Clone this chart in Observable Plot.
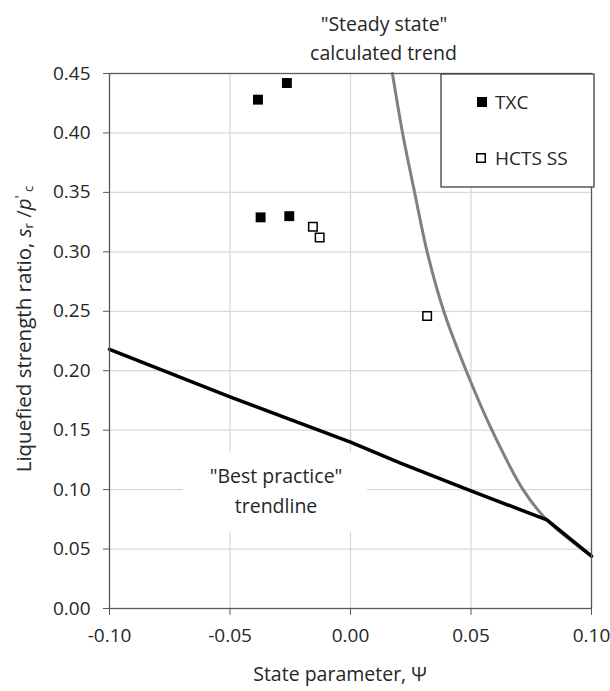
<!DOCTYPE html>
<html><head><meta charset="utf-8">
<script src="https://cdn.jsdelivr.net/npm/d3@7"></script>
<script src="https://cdn.jsdelivr.net/npm/@observablehq/plot@0.6"></script>
<style>body{margin:0;background:#fff;} svg{display:block;}</style>
</head><body><div id="chart"></div>
<script>
// Data
const xTicks = [-0.10, -0.05, 0.00, 0.05, 0.10];
const yTicks = [0.00, 0.05, 0.10, 0.15, 0.20, 0.25, 0.30, 0.35, 0.40, 0.45];

const txcPsi   = [-0.0384, -0.0264, -0.0373, -0.0254];
const txcRatio = [0.428, 0.442, 0.329, 0.330];

const hctsPsi   = [-0.0156, -0.0128, 0.0318];
const hctsRatio = [0.321, 0.312, 0.246];

const steadyPsi   = [0.0174, 0.0216, 0.0266, 0.0318, 0.0387, 0.0480, 0.0587, 0.0716, 0.0815, 0.1000];
const steadyRatio = [0.450, 0.400, 0.350, 0.300, 0.250, 0.200, 0.150, 0.100, 0.0745, 0.044];

const bestPsi   = [-0.100, -0.050, 0.000, 0.021, 0.050, 0.0815, 0.100];
const bestRatio = [0.218, 0.178, 0.140, 0.122, 0.099, 0.0745, 0.044];

const annotTexts = ['"Steady state"', 'calculated trend', '"Best practice"', 'trendline'];
const annotPsi   = [0.0139, 0.0137, -0.0309, -0.0309];
const annotRatio = [0.4908, 0.4664, 0.1106, 0.0854];

const legendLabels = ["TXC", "HCTS SS"];

const txc = txcPsi.map((x, i) => ({x, y: txcRatio[i]}));
const hcts = hctsPsi.map((x, i) => ({x, y: hctsRatio[i]}));
const steady = steadyPsi.map((x, i) => ({x, y: steadyRatio[i]}));
const best = bestPsi.map((x, i) => ({x, y: bestRatio[i]}));
const annots = annotTexts.map((t, i) => ({t, x: annotPsi[i], y: annotRatio[i]}));
const labelBox = [{x1: -0.0693, x2: 0.0071, y1: 0.0643, y2: 0.1308}];

const fmt = d => d.toFixed(2);
const txtColor = "#262626";
const axisColor = "#595959";
const font = "'Open Sans'";

const chart = Plot.plot({
  width: 610, height: 691,
  marginLeft: 109, marginRight: 19, marginTop: 73, marginBottom: 83,
  style: {fontFamily: font, fontSize: "19px", color: txtColor, background: "#fff", overflow: "visible"},
  x: {domain: [-0.1, 0.1]},
  y: {domain: [0, 0.45]},
  marks: [
    Plot.gridX(xTicks.slice(1, -1), {stroke: "#d9d9d9", strokeOpacity: 1, strokeWidth: 1.3}),
    Plot.gridY(yTicks.slice(1, -1), {stroke: "#d9d9d9", strokeOpacity: 1, strokeWidth: 1.3}),
    Plot.rect(labelBox, {x1: "x1", x2: "x2", y1: "y1", y2: "y2", fill: "white"}),
    Plot.text(annots, {x: "x", y: "y", text: "t", fill: txtColor, fontSize: 19.5}),
    Plot.line(steady, {x: "x", y: "y", stroke: "#808080", strokeWidth: 3, curve: "catmull-rom"}),
    Plot.line(best, {x: "x", y: "y", stroke: "#000", strokeWidth: 3.5}),
    Plot.dot(txc, {x: "x", y: "y", symbol: "square", r: 5.6, fill: "#000", stroke: "none"}),
    Plot.dot(hcts, {x: "x", y: "y", symbol: "square", r: 4.8, fill: "#fff", stroke: "#000", strokeWidth: 1.5}),
    Plot.frame({stroke: axisColor, strokeWidth: 1.3}),
    Plot.axisY(yTicks, {tickSize: 6, tickPadding: 13, tickFormat: fmt, label: null, stroke: axisColor, fill: txtColor}),
    Plot.axisX(xTicks, {tickSize: 7, tickPadding: 13, tickFormat: fmt, label: null, stroke: axisColor, fill: txtColor})
  ]
});
document.getElementById("chart").appendChild(chart);

const svg = d3.select(chart);

// X axis title
svg.append("text")
  .attr("x", 340).attr("y", 673)
  .attr("text-anchor", "middle").attr("dominant-baseline", "central")
  .attr("fill", txtColor).style("font-size", "19.5px")
  .text("State parameter, Ψ");

// Y axis title with italics / subscripts
const yl = svg.append("text")
  .attr("transform", "translate(23,329) rotate(-90)")
  .attr("text-anchor", "middle").attr("dominant-baseline", "central")
  .attr("fill", txtColor).style("font-size", "20.5px");
yl.append("tspan").text("Liquefied strength ratio, ");
yl.append("tspan").attr("font-style", "italic").text("s");
yl.append("tspan").attr("font-size", "13px").attr("dy", 5).text("r");
yl.append("tspan").attr("dy", -5).text(" /");
yl.append("tspan").attr("font-style", "italic").text("p");
yl.append("tspan").attr("font-size", "14px").attr("dy", -4).text("'");
yl.append("tspan").attr("font-size", "13px").attr("dy", 9).text(" c");

// Legend
const lg = svg.append("g").attr("text-anchor", "start");
lg.append("rect").attr("x", 441).attr("y", 74).attr("width", 153).attr("height", 113)
  .attr("fill", "#fff").attr("stroke", "#404040").attr("stroke-width", 1.3);
lg.append("rect").attr("x", 477).attr("y", 97).attr("width", 10).attr("height", 10).attr("fill", "#000");
lg.append("rect").attr("x", 476.75).attr("y", 153.75).attr("width", 8.5).attr("height", 8.5)
  .attr("fill", "#fff").attr("stroke", "#000").attr("stroke-width", 1.5);
lg.append("text").attr("x", 495).attr("y", 102).attr("dominant-baseline", "central")
  .attr("text-anchor", "start")
  .attr("fill", txtColor).style("font-size", "19px").text(legendLabels[0]);
lg.append("text").attr("x", 495).attr("y", 158).attr("dominant-baseline", "central")
  .attr("text-anchor", "start")
  .attr("fill", txtColor).style("font-size", "19px").text(legendLabels[1]);
</script>
</body></html>
